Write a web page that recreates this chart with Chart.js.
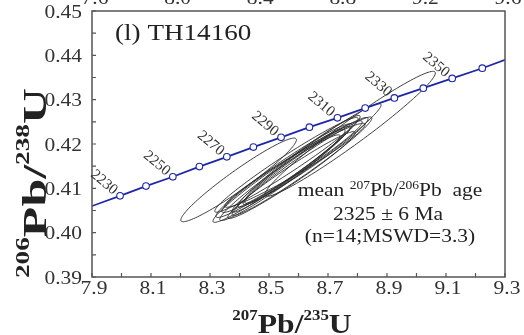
<!DOCTYPE html>
<html>
<head>
<meta charset="utf-8">
<script src="https://cdn.jsdelivr.net/npm/chart.js@4.4.1/dist/chart.umd.min.js"></script>
<style>
  html, body { margin: 0; padding: 0; background: #fff; }
</style>
</head>
<body>
<canvas id="concordia" width="524" height="335"></canvas>
<script>
// concordia curve (null age = curve end, no marker)
var concAges = [null, 2230, 2240, 2250, 2260, 2270, 2280, 2290, 2300, 2310, 2320, 2330, 2340, 2350, 2360, null];
var concX = [7.900, 7.995, 8.083, 8.174, 8.264, 8.357, 8.447, 8.541, 8.637, 8.732, 8.826, 8.925, 9.023, 9.121, 9.223, 9.300];
var concY = [0.4060, 0.4083, 0.4105, 0.4126, 0.4149, 0.4171, 0.4193, 0.4215, 0.4238, 0.4259, 0.4281, 0.4304, 0.4326, 0.4348, 0.4371, 0.4390];
var labelAges = [2230, 2250, 2270, 2290, 2310, 2330, 2350];

// error ellipses: centre, half extents on each axis, correlation
var ellX   = [8.397, 8.775, 8.646, 8.612, 8.534, 8.551, 8.559, 8.578, 8.588, 8.602, 8.627, 8.576, 8.537, 8.575];
var ellY   = [0.4119, 0.4223, 0.4177, 0.4150, 0.4128, 0.4140, 0.4153, 0.4149, 0.4152, 0.4161, 0.4163, 0.4130, 0.4124, 0.4143];
var ellSX  = [0.196, 0.289, 0.234, 0.237, 0.224, 0.231, 0.243, 0.238, 0.238, 0.207, 0.209, 0.216, 0.204, 0.200];
var ellSY  = [0.00943, 0.01409, 0.01139, 0.01110, 0.01047, 0.01058, 0.01068, 0.01034, 0.00947, 0.01034, 0.00967, 0.00979, 0.00967, 0.00968];
var ellRho = [0.958, 0.972, 0.974, 0.976, 0.974, 0.972, 0.976, 0.973, 0.970, 0.975, 0.972, 0.974, 0.971, 0.975];

// tick labels
var xTickLabels = ['7.9', '8.1', '8.3', '8.5', '8.7', '8.9', '9.1', '9.3'];
var yTickLabels = ['0.39', '0.40', '0.41', '0.42', '0.43', '0.44', '0.45'];
var topCutLabels = ['7.6', '8.0', '8.4', '8.8', '9.2', '9.6'];

var SERIF = '"Liberation Serif", "Times New Roman", serif';
var HS = 1.13; // the picture's text is a little wide

function putText(ctx, s, x, y, size, align, weight) {
    ctx.save();
    ctx.font = (weight || '') + ' ' + size + 'px ' + SERIF;
    ctx.translate(x, y);
    ctx.scale(HS, 1);
    ctx.textAlign = align || 'left';
    ctx.fillText(s, 0, 0);
    ctx.restore();
}

// runs of [text, size, rise] drawn one after the other
function runWidth(ctx, parts, weight) {
    var w = 0;
    parts.forEach(function (p) {
        ctx.font = (weight || '') + ' ' + p[1] + 'px ' + SERIF;
        w += ctx.measureText(p[0]).width;
    });
    return w;
}
function putRun(ctx, parts, x, y, weight) {
    ctx.save();
    ctx.translate(x, y);
    ctx.scale(HS, 1);
    ctx.textAlign = 'left';
    var cx = 0;
    parts.forEach(function (p) {
        ctx.font = (weight || '') + ' ' + p[1] + 'px ' + SERIF;
        ctx.fillText(p[0], cx, -p[2]);
        cx += ctx.measureText(p[0]).width;
    });
    ctx.restore();
}

var decor = {
    id: 'decor',
    beforeDatasetsDraw: function (chart) {
        var ctx = chart.ctx, a = chart.chartArea;
        var xs = chart.scales.x, ys = chart.scales.y;
        ctx.save();
        ctx.beginPath();
        ctx.rect(a.left, a.top, a.right - a.left, a.bottom - a.top);
        ctx.clip();
        ctx.strokeStyle = '#2b2b2b';
        ctx.lineWidth = 0.9;
        for (var i = 0; i < ellX.length; i++) {
            var r = ellRho[i], q = Math.sqrt(1 - r * r);
            ctx.beginPath();
            for (var k = 0; k <= 120; k++) {
                var t = k / 120 * Math.PI * 2;
                var dx = ellX[i] + ellSX[i] * Math.cos(t);
                var dy = ellY[i] + ellSY[i] * (r * Math.cos(t) + q * Math.sin(t));
                var px = xs.getPixelForValue(dx), py = ys.getPixelForValue(dy);
                if (k === 0) ctx.moveTo(px, py); else ctx.lineTo(px, py);
            }
            ctx.closePath();
            ctx.stroke();
        }
        ctx.restore();
    },
    afterDatasetsDraw: function (chart) {
        var ctx = chart.ctx, a = chart.chartArea;
        var xs = chart.scales.x, ys = chart.scales.y;
        ctx.save();

        // frame
        ctx.strokeStyle = '#555';
        ctx.lineWidth = 1.5;
        ctx.strokeRect(a.left, a.top, a.right - a.left, a.bottom - a.top);

        // inward ticks
        ctx.lineWidth = 1.2;
        ctx.beginPath();
        xs.ticks.forEach(function (t) {
            var p = xs.getPixelForValue(t.value);
            ctx.moveTo(p, a.bottom); ctx.lineTo(p, a.bottom - 4);
        });
        ys.ticks.forEach(function (t) {
            var p = ys.getPixelForValue(t.value);
            ctx.moveTo(a.left, p); ctx.lineTo(a.left + 4, p);
        });
        ctx.stroke();

        // tick labels
        ctx.fillStyle = '#333';
        xTickLabels.forEach(function (s) {
            putText(ctx, s, xs.getPixelForValue(parseFloat(s)) + 2, a.bottom + 17, 19, 'center');
        });
        yTickLabels.forEach(function (s) {
            putText(ctx, s, a.left - 10, ys.getPixelForValue(parseFloat(s)) + 6.5, 19, 'right');
        });
        // labels of the panel above, cut off by the picture edge
        topCutLabels.forEach(function (s, i) {
            var px = a.left + (a.right - a.left) * i / (topCutLabels.length - 1) + 3;
            putText(ctx, s, px, 4, 19, 'center');
        });

        // age labels on the concordia
        var meta = chart.getDatasetMeta(0);
        ctx.fillStyle = '#333';
        ctx.font = '15px ' + SERIF;
        ctx.textAlign = 'right';
        ctx.textBaseline = 'middle';
        var ang = 40 * Math.PI / 180;
        labelAges.forEach(function (age) {
            var el = meta.data[concAges.indexOf(age)];
            ctx.save();
            ctx.translate(el.x - 6 * Math.cos(ang), el.y - 6 * Math.sin(ang));
            ctx.rotate(ang);
            ctx.fillText(String(age), 0, 0);
            ctx.restore();
        });
        ctx.textBaseline = 'alphabetic';
        ctx.textAlign = 'left';

        // panel label
        ctx.fillStyle = '#222';
        putText(ctx, '(l) TH14160', 115, 40, 24, 'left');

        // mean age box
        var l1 = [['mean ', 19, 0], ['207', 12, 7], ['Pb/', 19, 0], ['206', 12, 7], ['Pb  age', 19, 0]];
        var w1 = runWidth(ctx, l1) * HS;
        putRun(ctx, l1, 390 - w1 / 2, 196);
        putText(ctx, '2325 \u00b1 6 Ma', 388, 220, 19, 'center');
        putText(ctx, '(n=14;MSWD=3.3)', 390, 242, 19, 'center');

        // x title
        var xt = [['207', 15, 13], ['Pb/', 28, 0], ['235', 15, 13], ['U', 28, 0]];
        var wx = runWidth(ctx, xt, 'bold') * HS;
        putRun(ctx, xt, 292 - wx / 2, 333, 'bold');

        // y title, rotated
        var yt = [['206', 18, 17], ['Pb/', 33, 0], ['238', 18, 17], ['U', 33, 0]];
        var wy = runWidth(ctx, yt, 'bold');
        var k = 190 / wy;
        ctx.save();
        ctx.translate(46, 183);
        ctx.rotate(-Math.PI / 2);
        ctx.scale(k, 1);
        ctx.textAlign = 'left';
        var cx = -wy / 2;
        yt.forEach(function (p) {
            ctx.font = 'bold ' + p[1] + 'px ' + SERIF;
            ctx.fillText(p[0], cx, -p[2]);
            cx += ctx.measureText(p[0]).width;
        });
        ctx.restore();

        ctx.restore();
    }
};

var ctx = document.getElementById('concordia').getContext('2d');
var concordiaChart = new Chart(ctx, {
    type: 'scatter',
    data: {
        datasets: [{
            type: 'line',
            data: concX.map(function (x, i) { return { x: x, y: concY[i] }; }),
            borderColor: '#1d27a6',
            borderWidth: 1.7,
            pointRadius: function (c) { return concAges[c.dataIndex] ? 3.3 : 0; },
            pointBackgroundColor: '#fff',
            pointBorderColor: '#1d27a6',
            pointBorderWidth: 1.1,
            tension: 0,
            fill: false
        }]
    },
    options: {
        responsive: false,
        animation: false,
        devicePixelRatio: 1,
        layout: { padding: { top: 11, right: 19, left: 0, bottom: 0 } },
        plugins: { legend: { display: false }, tooltip: { enabled: false } },
        scales: {
            x: {
                type: 'linear',
                min: 7.9,
                max: 9.3,
                ticks: { stepSize: 0.1, display: false },
                grid: { display: false },
                border: { display: false },
                afterFit: function (s) { s.height = 58; }
            },
            y: {
                type: 'linear',
                min: 0.39,
                max: 0.45,
                ticks: { stepSize: 0.005, display: false },
                grid: { display: false },
                border: { display: false },
                afterFit: function (s) { s.width = 92; }
            }
        }
    },
    plugins: [decor]
});
</script>
</body>
</html>
